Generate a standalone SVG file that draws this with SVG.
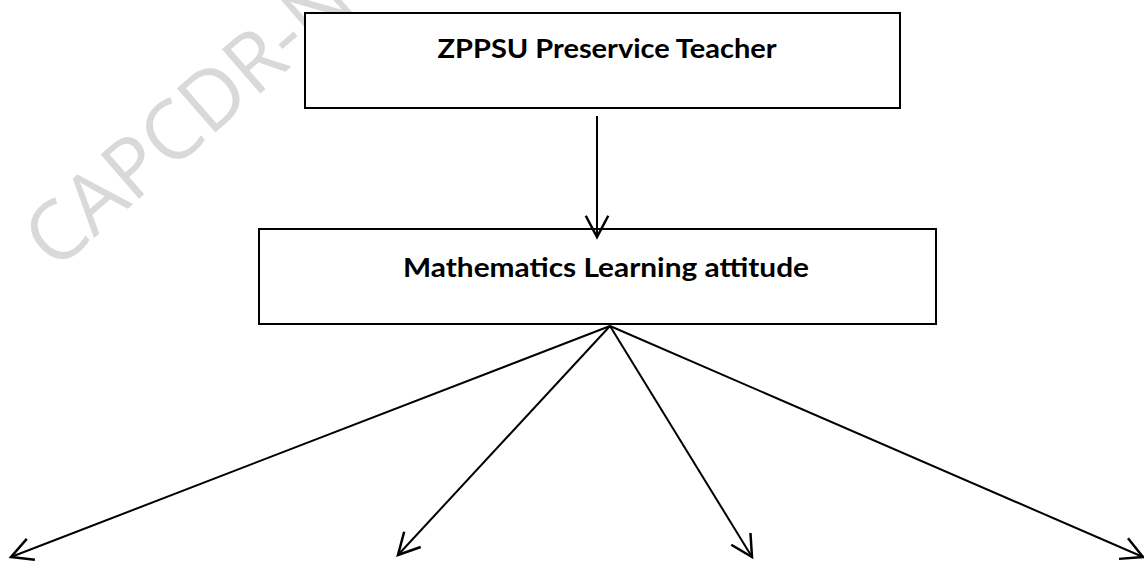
<svg xmlns="http://www.w3.org/2000/svg" width="1144" height="565" viewBox="0 0 1144 565">
<style>
.box{fill:#fff;stroke:#000;stroke-width:2}
.lbl{font-family:Lato,"Open Sans","Liberation Sans",sans-serif;font-weight:bold;font-size:27px;fill:#000;text-anchor:middle}
.con{stroke:#000;stroke-width:2;fill:none}
.wm{font-family:"Open Sans","Liberation Sans",sans-serif;font-size:82px;fill:#d9d9d9}
</style>
<defs>
<marker id="arr" markerUnits="userSpaceOnUse" markerWidth="30" markerHeight="30" viewBox="-20 -12 22 24" refX="0" refY="0" orient="auto">
<path d="M-17,-9 L0,0 L-17,9" fill="none" stroke="#000" stroke-width="2"/>
</marker>
</defs>
<text class="wm" x="55" y="272" transform="rotate(-41 55 272)">CAPCDR-N</text>
<g id="node-teacher">
<rect class="box" x="305" y="13" width="595" height="95"/>
<text class="lbl" x="607" y="58" textLength="339" lengthAdjust="spacingAndGlyphs">ZPPSU Preservice Teacher</text>
</g>
<g id="node-attitude">
<rect class="box" x="259" y="229" width="677" height="95"/>
<text class="lbl" x="606" y="277" textLength="406" lengthAdjust="spacingAndGlyphs">Mathematics Learning attitude</text>
</g>
<g id="connectors">
<line class="con" x1="597" y1="116" x2="597" y2="237" marker-end="url(#arr)"/>
<line class="con" x1="610" y1="326" x2="11" y2="557" marker-end="url(#arr)"/>
<line class="con" x1="610" y1="326" x2="398" y2="555" marker-end="url(#arr)"/>
<line class="con" x1="610" y1="326" x2="752" y2="557" marker-end="url(#arr)"/>
<line class="con" x1="610" y1="326" x2="1143" y2="557" marker-end="url(#arr)"/>
</g>
</svg>
